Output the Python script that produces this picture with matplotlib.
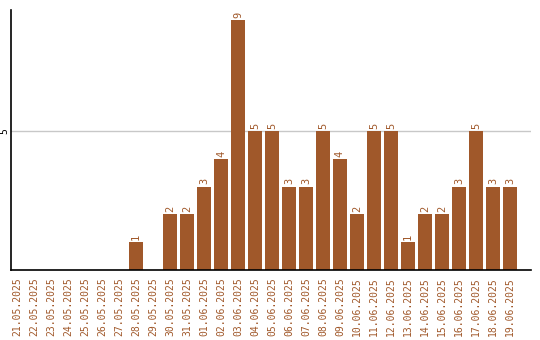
import matplotlib
matplotlib.use("Agg")
from matplotlib import pyplot as plt

# data
dates = ["21.05.2025", "22.05.2025", "23.05.2025", "24.05.2025", "25.05.2025",
         "26.05.2025", "27.05.2025", "28.05.2025", "29.05.2025", "30.05.2025",
         "31.05.2025", "01.06.2025", "02.06.2025", "03.06.2025", "04.06.2025",
         "05.06.2025", "06.06.2025", "07.06.2025", "08.06.2025", "09.06.2025",
         "10.06.2025", "11.06.2025", "12.06.2025", "13.06.2025", "14.06.2025",
         "15.06.2025", "16.06.2025", "17.06.2025", "18.06.2025", "19.06.2025"]
counts = [0, 0, 0, 0, 0, 0, 0, 1, 0, 2, 2, 3, 4, 9, 5, 5, 3, 3, 5, 4,
          2, 5, 5, 1, 2, 2, 3, 5, 3, 3]

bar_color = "#A0582A"
mono = "DejaVu Sans Mono"

fig = plt.figure(figsize=(5.4, 3.4), dpi=100)
ax = fig.add_axes([11 / 540, 70 / 340, 520 / 540, 260 / 340])

x = list(range(len(dates)))
ax.bar(x, counts, width=0.82, color=bar_color, zorder=2)

# value labels, rotated like the reference
for xi, v in zip(x, counts):
    if v > 0:
        ax.text(xi, v + 0.08, str(v), rotation=90, ha="center", va="bottom",
                color=bar_color, fontsize=7.5, family=mono)

ax.set_xlim(-0.35, 30.24)
ax.set_ylim(0, 9.35)
ax.set_xticks(x)
ax.set_xticklabels(dates, rotation=90, color=bar_color, fontsize=7, family=mono)
ax.set_yticks([5])
ax.set_yticklabels(["5"], rotation=90, va="center", fontsize=7, family=mono)
ax.tick_params(axis="x", length=0, pad=5)
ax.tick_params(axis="y", length=0, pad=1)
ax.axhline(5, color="#c8c8c8", linewidth=1, zorder=1)

for s in ["top", "right"]:
    ax.spines[s].set_visible(False)
ax.spines["left"].set_linewidth(1.2)
ax.spines["bottom"].set_linewidth(1.2)

fig.savefig("out.png", dpi=100)
